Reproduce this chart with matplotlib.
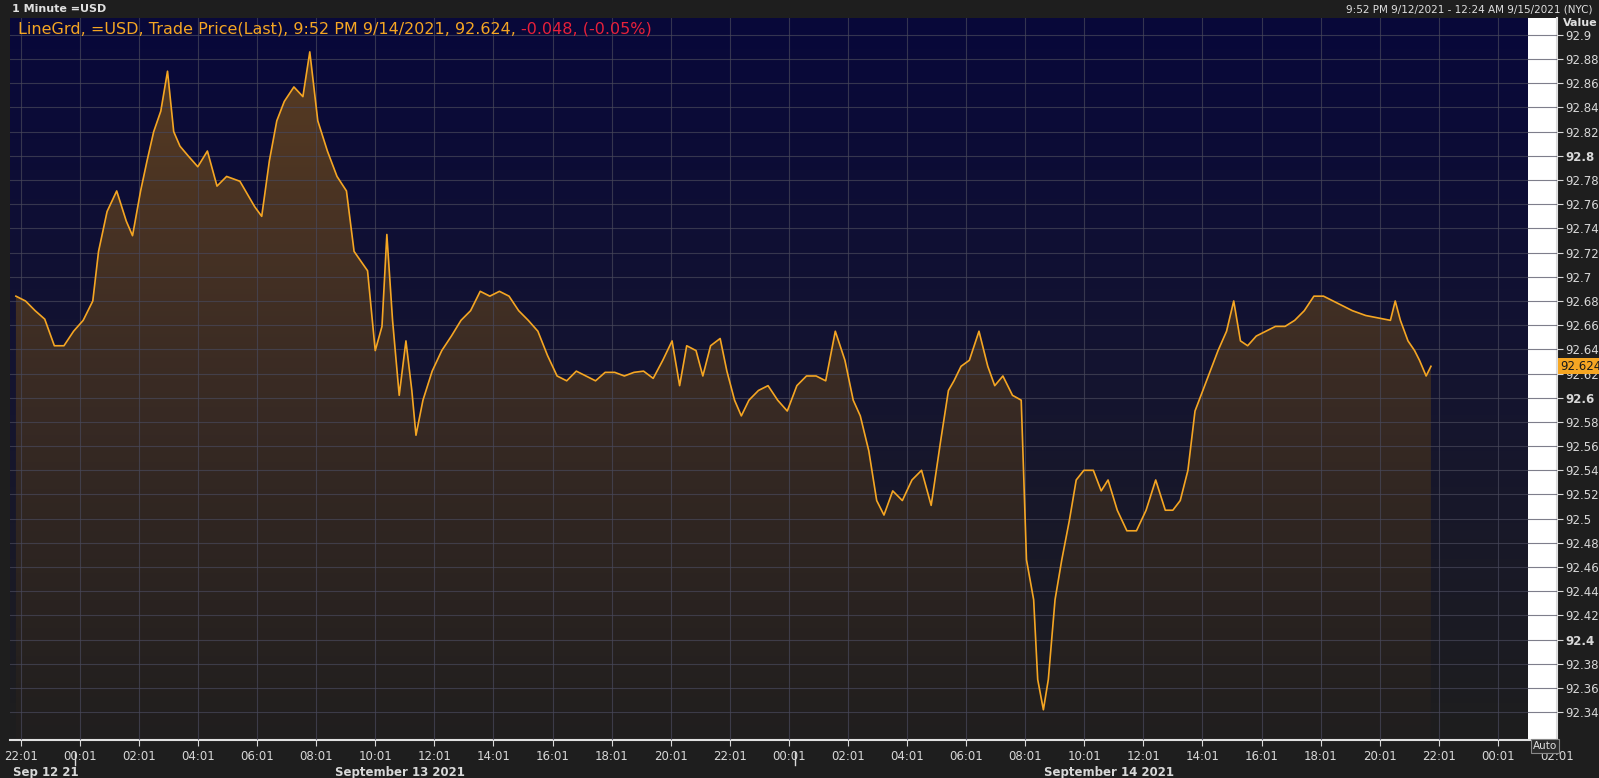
import numpy as np
import matplotlib
matplotlib.use("Agg")
import matplotlib.pyplot as plt
from matplotlib.path import Path
from matplotlib.patches import PathPatch
from matplotlib.colors import LinearSegmentedColormap

# reading positions, minutes since 2021-09-12 22:01 (NYC)
minutes = [-10,10,30,50,70,90,110,130,150,160,180,200,220,230,250,260,276,290,304,316,330,350,370,390,410,430,470,484,500,516,530,550,570,584,600,620,640,660,676,690,704,720,734,744,756,770,784,796,804,820,840,860,880,900,920,940,960,980,1000,1020,1040,1060,1080,1100,1120,1140,1160,1180,1200,1220,1240,1260,1280,1300,1320,1336,1350,1370,1384,1400,1420,1434,1450,1464,1480,1500,1520,1540,1560,1580,1600,1620,1640,1660,1680,1696,1710,1730,1744,1760,1780,1800,1820,1840,1860,1880,1890,1904,1920,1940,1960,1974,1990,2010,2030,2040,2056,2064,2076,2086,2100,2114,2130,2144,2160,2180,2196,2210,2230,2250,2270,2290,2310,2330,2344,2360,2376,2390,2420,2440,2456,2470,2484,2500,2520,2540,2560,2580,2600,2620,2640,2660,2680,2700,2720,2780,2790,2800,2816,2830,2840,2854,2864]
values = [92.684,92.680,92.672,92.665,92.643,92.643,92.655,92.664,92.680,92.721,92.754,92.771,92.746,92.734,92.771,92.796,92.820,92.837,92.870,92.820,92.808,92.800,92.791,92.804,92.775,92.783,92.779,92.758,92.750,92.796,92.829,92.845,92.857,92.849,92.886,92.829,92.804,92.783,92.771,92.721,92.713,92.705,92.639,92.659,92.735,92.664,92.602,92.647,92.606,92.569,92.598,92.622,92.639,92.651,92.664,92.672,92.688,92.684,92.688,92.684,92.672,92.664,92.655,92.635,92.618,92.614,92.622,92.618,92.614,92.621,92.621,92.618,92.621,92.622,92.616,92.631,92.647,92.610,92.643,92.639,92.618,92.643,92.649,92.622,92.598,92.585,92.598,92.606,92.610,92.598,92.589,92.610,92.618,92.618,92.614,92.655,92.631,92.598,92.585,92.556,92.515,92.503,92.523,92.515,92.532,92.540,92.511,92.565,92.606,92.614,92.626,92.631,92.655,92.626,92.610,92.618,92.602,92.598,92.466,92.433,92.367,92.342,92.367,92.433,92.466,92.499,92.532,92.540,92.540,92.523,92.532,92.507,92.490,92.490,92.507,92.532,92.507,92.507,92.515,92.540,92.589,92.614,92.639,92.655,92.680,92.647,92.643,92.651,92.655,92.659,92.659,92.664,92.672,92.684,92.684,92.680,92.676,92.672,92.668,92.664,92.680,92.664,92.647,92.639,92.631,92.618,92.626]
yticks = [92.34,92.36,92.38,92.40,92.42,92.44,92.46,92.48,92.50,92.52,92.54,92.56,92.58,92.60,92.62,92.64,92.66,92.68,92.70,92.72,92.74,92.76,92.78,92.80,92.82,92.84,92.86,92.88,92.90]
xtick_minutes = list(range(0, 3121, 120))
xtick_labels = ["%02d:01" % ((22 + m // 60) % 24) for m in xtick_minutes]
date_labels = [("Sep 12 21", 50), ("September 13 2021", 770), ("September 14 2021", 2210)]

# map the reading positions onto the value samples
x = np.interp(np.linspace(0, 1, len(values)), np.linspace(0, 1, len(minutes)), minutes)
y = np.array(values, float)

fig = plt.figure(figsize=(15.99, 7.78), dpi=100)
fig.patch.set_facecolor("#1e1e1e")
W, H = 1599, 778
ax = fig.add_axes([10/W, 1-740/H, 1547/W, 722/H])
x0, x1 = -22, 3060
y0, y1 = 92.317, 92.914
ax.set_xlim(x0, x1); ax.set_ylim(y0, y1)

bg = LinearSegmentedColormap.from_list("bg", ["#1e1e1e", "#141430", "#08083a"])
ax.imshow(np.linspace(0, 1, 256)[:, None], cmap=bg, origin="lower", aspect="auto",
          extent=[x0, x1, y0, y1], zorder=0)
fc = LinearSegmentedColormap.from_list("fc", ["#201e1e", "#3a2b24", "#5a3c22"])
im = ax.imshow(np.linspace(0, 1, 256)[:, None], cmap=fc, origin="lower", aspect="auto",
               extent=[x0, x1, y0, y1], zorder=1)
verts = [(x[0], y0)] + list(zip(x, y)) + [(x[-1], y0)]
clip = PathPatch(Path(verts), transform=ax.transData, facecolor="none", edgecolor="none")
ax.add_patch(clip)
im.set_clip_path(clip)
ax.plot(x, y, color="#f5a623", lw=1.2, zorder=3)

ax.set_yticks(yticks)
ax.set_xticks(xtick_minutes)
ax.grid(True, color="#48485a", lw=0.8, alpha=0.7, zorder=2)
ax.set_axisbelow(False)
ax.yaxis.tick_right()
ax.set_yticklabels([("%g" % v) for v in yticks])
for t, v in zip(ax.get_yticklabels(), yticks):
    t.set_color("#d8d8d8"); t.set_fontsize(8.5)
    if abs(v*10 - round(v*10)) < 1e-6 and round(v*10) % 2 == 0:
        t.set_fontweight("bold")
ax.set_xticklabels(xtick_labels, color="#d8d8d8", fontsize=8.5)
ax.tick_params(axis="y", colors="#d8d8d8", length=4, pad=2)
ax.tick_params(axis="x", colors="#d8d8d8", length=4, pad=3)
for s in ["top", "left"]:
    ax.spines[s].set_visible(False)
ax.spines["right"].set_color("#e0e0e0"); ax.spines["right"].set_linewidth(1.5)
ax.spines["bottom"].set_color("#e0e0e0"); ax.spines["bottom"].set_linewidth(1.5)

for lab, m in date_labels:
    ax.annotate(lab, (m, 0), xycoords=("data", "axes fraction"), xytext=(0, -26),
                textcoords="offset points", ha="center", color="#d8d8d8",
                fontsize=8.5, fontweight="bold")
for xp in [75, 795]:
    fig.add_artist(plt.Line2D([xp/W, xp/W], [1-765/H, 1-752/H], color="#d8d8d8", lw=1))

fig.text(12/W, 1-9/H, "1 Minute =USD", color="#e0e0e0", fontsize=8, fontweight="bold", va="center")
fig.text(1593/W, 1-9/H, "9:52 PM 9/12/2021 - 12:24 AM 9/15/2021 (NYC)", color="#e0e0e0",
         fontsize=7.5, ha="right", va="center")
fig.text(1580/W, 1-23/H, "Value", color="#e0e0e0", fontsize=8, fontweight="bold", ha="center", va="center")
fig.text(1545/W, 1-746/H, "Auto", color="#e0e0e0", fontsize=7.5, ha="center", va="center",
         bbox=dict(facecolor="#2a2a2a", edgecolor="#888888", pad=1.5, lw=0.8))
t1 = fig.text(18/W, 1-29/H, "LineGrd, =USD, Trade Price(Last), 9:52 PM 9/14/2021, 92.624, ",
              color="#f5a623", fontsize=11.5, va="center")
fig.canvas.draw()
bb = t1.get_window_extent()
fig.text(bb.x1/W, 1-29/H, "-0.048, (-0.05%)", color="#e8203a", fontsize=11.5, va="center")
ax.annotate("92.624", (1, values[-1]), xycoords=("axes fraction", "data"), xytext=(2, 0),
            textcoords="offset points", va="center", ha="left", fontsize=8.5, color="#1a1a1a",
            bbox=dict(facecolor="#f5a623", edgecolor="none", pad=1))

fig.savefig("out.png", dpi=100, facecolor=fig.get_facecolor())
